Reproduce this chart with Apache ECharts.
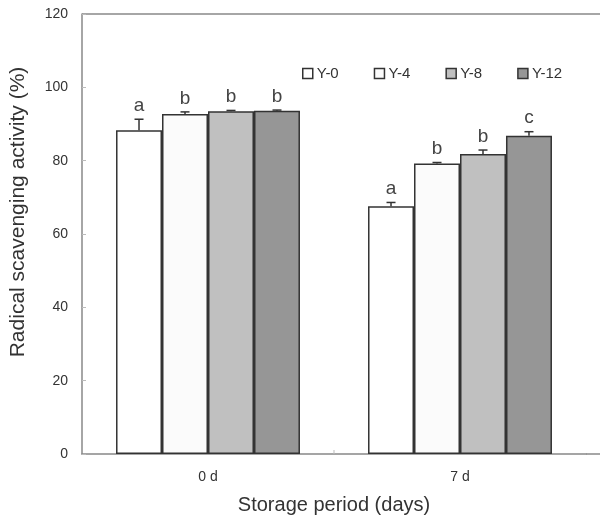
<!DOCTYPE html>
<html><head><meta charset="utf-8">
<script src="https://cdn.jsdelivr.net/npm/echarts@6/dist/echarts.min.js"></script>
<style>html,body{margin:0;padding:0;background:#fff}#c{width:600px;height:521px}</style>
</head><body><div id="c"></div>
<script>
const categories = ['0 d', '7 d'];
const seriesNames = ['Y-0', 'Y-4', 'Y-8', 'Y-12'];
const y0 = [88.3, 67.6];
const y4 = [92.7, 79.2];
const y8 = [93.5, 81.8];
const y12 = [93.6, 86.8];
const err0 = [3.0, 1.0];
const err4 = [0.6, 0.3];
const err8 = [0.2, 1.1];
const err12 = [0.2, 1.1];
const letters0 = ['a', 'a'];
const letters4 = ['b', 'b'];
const letters8 = ['b', 'b'];
const letters12 = ['b', 'c'];
const yTicks = [0, 20, 40, 60, 80, 100, 120];

const values = [y0, y4, y8, y12];
const errs = [err0, err4, err8, err12];
const letters = [letters0, letters4, letters8, letters12];
const colors = ['#ffffff', '#fbfbfb', '#c0c0c0', '#969696'];
const FONT = "'Liberation Sans', Arial, sans-serif";
const catGap = 0.27;

const chart = echarts.init(document.getElementById('c'));
const barSeries = seriesNames.map((n, i) => ({
  name: n, type: 'bar', data: values[i],
  barGap: '0%', barCategoryGap: (catGap * 100) + '%',
  itemStyle: { color: colors[i], borderColor: '#333', borderWidth: 1.5 },
  z: 2
}));

function errData(i) {
  return categories.map((c, k) => [k, values[i][k], errs[i][k]]);
}
const errSeries = seriesNames.map((n, i) => ({
  type: 'custom', name: n + ' err', z: 3,
  data: errData(i),
  encode: { x: 0, y: 1 },
  renderItem: function (params, api) {
    const k = api.value(0), v = api.value(1), e = api.value(2);
    const band = api.size([1, 0])[0];
    const bw = band * (1 - catGap) / 4;
    const c = api.coord([k, v]);
    const x = c[0] + (i - 1.5) * bw;
    const top = api.coord([k, v + e])[1];
    const cap = 4.5;
    const children = [
      { type: 'line', shape: { x1: x, y1: c[1], x2: x, y2: top }, style: { stroke: '#333', lineWidth: 1.5 } },
      { type: 'line', shape: { x1: x - cap, y1: top, x2: x + cap, y2: top }, style: { stroke: '#333', lineWidth: 1.5 } },
      { type: 'text', x: x, y: top - 4, style: { text: letters[i][k], fontFamily: FONT, fontSize: 19, fill: '#444', align: 'center', verticalAlign: 'bottom' } }
    ];
    if (i === 0 && k === 1) {
      // category separator tick on the x axis (between the two groups)
      const x0 = c[0] - band / 2;
      const base = api.coord([k, 0])[1];
      children.push({ type: 'line', shape: { x1: x0, y1: base, x2: x0, y2: base - 4 }, style: { stroke: '#bbb', lineWidth: 1 } });
    }
    return { type: 'group', children };
  }
}));

chart.setOption({
  animation: false,
  backgroundColor: '#fff',
  grid: { left: 82, top: 14, width: 504, height: 440 },
  legend: {
    data: seriesNames, left: 297, top: 61, itemWidth: 10, itemHeight: 10, itemGap: 35,
    icon: 'rect', textStyle: { fontFamily: FONT, fontSize: 15, color: '#333', padding: [0, 0, 0, -1] },
    itemStyle: { borderColor: '#333', borderWidth: 1.5 }
  },
  xAxis: {
    type: 'category', data: categories,
    name: 'Storage period (days)', nameLocation: 'middle', nameGap: 41,
    nameTextStyle: { fontFamily: FONT, fontSize: 20, color: '#333' },
    axisLine: { lineStyle: { color: '#888', width: 1.5 } },
    axisTick: { show: false },
    axisLabel: { fontFamily: FONT, fontSize: 14, color: '#333', margin: 16 }
  },
  yAxis: {
    type: 'value', min: 0, max: 120, interval: 20,
    name: 'Radical scavenging activity (%)', nameLocation: 'middle', nameGap: 53,
    nameTextStyle: { fontFamily: FONT, fontSize: 21, color: '#333', padding: [0, 0, 0, 44] },
    axisLine: { show: true, lineStyle: { color: '#888', width: 1.5 } },
    axisTick: { show: true, inside: true, length: 4, lineStyle: { color: '#bbb' } },
    splitLine: { show: false },
    axisLabel: { fontFamily: FONT, fontSize: 14, color: '#333', margin: 14,
      formatter: v => yTicks.includes(v) ? String(v) : '' }
  },
  graphic: [
    { type: 'line', shape: { x1: 82, y1: 14, x2: 600, y2: 14 }, style: { stroke: '#888', lineWidth: 1.5 } },
    { type: 'line', shape: { x1: 586, y1: 454, x2: 600, y2: 454 }, style: { stroke: '#888', lineWidth: 1.5 } }
  ],
  series: [...barSeries, ...errSeries]
});
</script></body></html>
